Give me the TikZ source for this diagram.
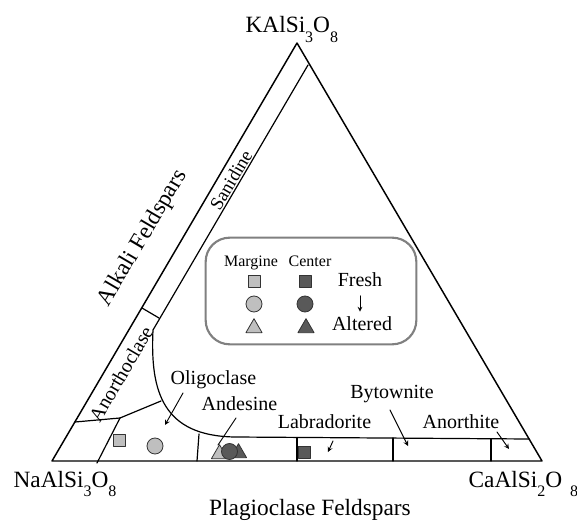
\documentclass[tikz,border=0pt]{standalone}
\usepackage{fontspec}
\setmainfont{Liberation Serif}
\usetikzlibrary{shapes.geometric}
\newcommand{\dn}[1]{\raisebox{-7pt}{\fontsize{12}{12}\selectfont #1}}
\tikzset{
	lite/.style={draw=black!80, fill=black!25, line width=0.6pt, inner sep=0pt},
	dark/.style={draw=black!80, fill=black!65, line width=0.6pt, inner sep=0pt},
	sqr/.style={rectangle, minimum size=9pt},
	dot/.style={circle, minimum size=12pt},
	tri/.style={regular polygon, regular polygon sides=3, minimum size=14pt},
	lbl/.style={font=\fontsize{15}{15}\selectfont, inner sep=0pt, anchor=base},
	big/.style={font=\fontsize{17.5}{17.5}\selectfont, inner sep=0pt},
	key/.style={font=\fontsize{12}{12}\selectfont, inner sep=0pt, anchor=base}
}
\begin{document}
\begin{tikzpicture}[x=0.75pt, y=-0.75pt, >=stealth, line join=round, line cap=round, line width=0.9pt]
		\useasboundingbox (0,0) rectangle (577,523);
		\def\ang{59.6}
		% apices
		\coordinate (Ab) at (52,461); \coordinate (Or) at (297,43); \coordinate (An) at (542,461);
		\draw[line width=1.1pt] (Ab)--(Or)--(An)--cycle;
		% field boundaries
		\coordinate (s0) at (308,65); \coordinate (s1) at (153,330);
		\coordinate (c1) at (235,437); \coordinate (c2) at (529,439);
		\draw (s0)--(s1) .. controls (150,392) and (163,436) .. (c1)--(c2);
		\draw (142,308)--(159,318);
		\coordinate (k0) at (75,422); \coordinate (k1) at (120,418);
		\draw (k0)--(k1)--(161,401);
		\draw (k1)--(97,463);
		\draw (199,434)--(197,461);
		\foreach \x/\y in {297/437.5,393/438,491/439}
		\draw (\x,\y)--(\x,461);
		% corner labels
		\node[big, anchor=base west] (or) at (245,33) {KAlSi\dn{3}O\dn{8}};
		\node[big, anchor=base west] (ab) at (13,487) {NaAlSi\dn{3}O\dn{8}};
		\node[big, anchor=base west] (an) at (468,487) {CaAlSi\dn{2}O\hspace{6pt}\dn{8}};
		\node[big, anchor=base] (plag) at (310,515) {Plagioclase Feldspars};
		\node[big, rotate=\ang] (alk) at (143,238) {Alkali Feldspars};
		\node[lbl, font=\fontsize{14}{14}\selectfont, anchor=center, rotate=\ang] (sani) at (231,180) {Sanidine};
		\node[lbl, anchor=center, rotate=\ang] (anor) at (121,374) {Anorthoclase};
		% plagioclase names
		\node[lbl] (olig) at (213.5,384) {Oligoclase};
		\node[lbl] (ande) at (239.5,410) {Andesine};
		\node[lbl] (labr) at (324.5,428) {Labradorite};
		\node[lbl] (byto) at (392,398) {Bytownite};
		\node[lbl] (anth) at (461,428) {Anorthite};
		\coordinate (o1) at (183,393); \coordinate (o2) at (165,425);
		\coordinate (a1) at (236,418); \coordinate (a2) at (218,445);
		\coordinate (l1) at (333,441); \coordinate (l2) at (328,452);
		\coordinate (b1) at (390,410); \coordinate (b2) at (408,446);
		\coordinate (t1) at (497,432); \coordinate (t2) at (509,449);
		\draw[->, line width=0.7pt] (o1)--(o2);
		\draw[line width=0.7pt] (a1)--(a2);
		\foreach \p in {l,b,t}
		\draw[->, line width=0.7pt] (\p1)--(\p2);
		% samples
		\node[lite, sqr] (m1) at (119,440) {};
		\node[lite, dot] (m2) at (155,446) {};
		\node[dark, tri] (m3) at (238.5,453) {};
		\node[lite, tri] (m4) at (219.5,454) {};
		\node[dark, dot] (m5) at (229.5,451.5) {};
		\node[dark, sqr] (m6) at (304.5,452) {};
		% legend
		\node[draw=black!50, line width=1.6pt, rounded corners=18pt, minimum width=158pt, minimum height=80pt] (box) at (311,291) {};
		\node[key] (marg) at (251,267) {Margine};
		\node[key] (cent) at (310,267) {Center};
		\node[lite, sqr] (k1) at (254,281.5) {};
		\node[lite, dot] (k2) at (254,304) {};
		\node[lite, tri] (k3) at (254,328) {};
		\node[dark, sqr] (k4) at (305,281.5) {};
		\node[dark, dot] (k5) at (305,304) {};
		\node[dark, tri] (k6) at (306,328) {};
		\node[lbl] (fresh) at (360,287) {Fresh};
		\node[lbl] (alt) at (362,330) {Altered};
		\draw[->, line width=0.6pt, shorten <=6pt, shorten >=3pt] (fresh.south) -- (fresh.south |- alt.north);
\end{tikzpicture}
\end{document}
